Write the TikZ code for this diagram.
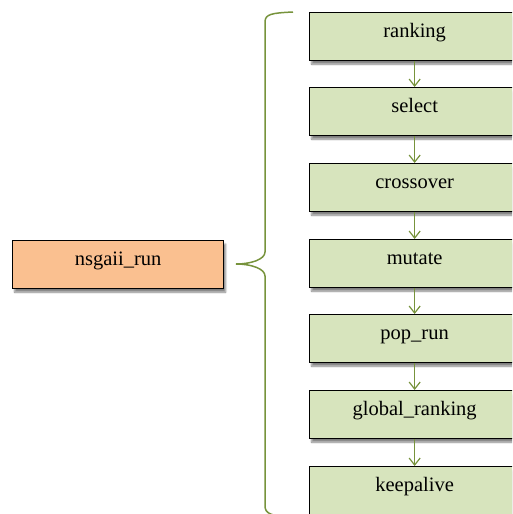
\documentclass[tikz,border=0pt]{standalone}
\usepackage{fontspec}
\setmainfont{Liberation Serif}
\usetikzlibrary{arrows.meta,shadows.blur}
\definecolor{boxgreen}{HTML}{D7E4BD}
\definecolor{boxorange}{HTML}{FAC090}
\definecolor{linkgreen}{HTML}{77933C}

\begin{document}
\begin{tikzpicture}[x=1pt,y=-1pt,
  basebox/.style={draw=black, line width=1.3pt, minimum height=48pt,
    anchor=north west, inner sep=0pt, font=\fontsize{20.5}{24}\selectfont,
    text height=8pt, text depth=6pt,
    blur shadow={shadow xshift=2pt, shadow yshift=-3.5pt, shadow blur steps=6, shadow opacity=50}},
  stepbox/.style={basebox, fill=boxgreen, minimum width=210pt},
  rootbox/.style={basebox, fill=boxorange, minimum width=211pt},
  link/.style={draw=linkgreen, line width=1.2pt, -{Straight Barb[length=7pt,width=11pt]}},
  bracket/.style={draw=linkgreen, line width=1.5pt}]
\useasboundingbox (0,0) rectangle (512,514);
\clip (0,0) rectangle (512,514);

% root call
\node[rootbox] (root) at (12,240) {nsgaii\_run};

% sequence of steps
\node[stepbox] (s1) at (309,12)  {ranking};
\node[stepbox] (s2) at (309,87)  {select};
\node[stepbox] (s3) at (309,163) {crossover};
\node[stepbox] (s4) at (309,239) {mutate};
\node[stepbox] (s5) at (309,314) {pop\_run};
\node[stepbox] (s6) at (309,390) {global\_ranking};
\node[stepbox] (s7) at (309,466) {keepalive};

\foreach \a/\b in {s1/s2,s2/s3,s3/s4,s4/s5,s5/s6,s6/s7}
  \draw[link] (\a.south) -- (\b.north);

% curly brace grouping the steps
\coordinate (btop) at (293,12);
\coordinate (btip) at (236,264);
\coordinate (bbot) at (293,518);
\draw[bracket] (btop) .. controls (272,13) and (265,14) .. (265,22)
  -- (265,252) .. controls (265,259) and (252,264) .. (btip)
  .. controls (252,264) and (265,269) .. (265,276)
  -- (265,506) .. controls (265,514) and (272,516) .. (bbot);
\end{tikzpicture}
\end{document}
